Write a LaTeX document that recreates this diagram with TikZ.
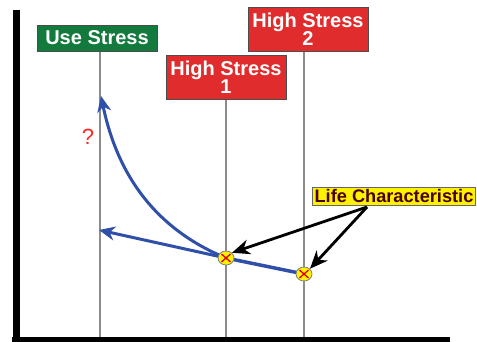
\documentclass[tikz,border=0pt]{standalone}
\usepackage{fontspec}
\setmainfont{Liberation Sans}
\usetikzlibrary{arrows.meta,shapes.geometric}
\definecolor{boxgreen}{HTML}{137A3D}
\definecolor{boxred}{HTML}{E02C2C}
\definecolor{curveblue}{HTML}{2F4FA8}
\definecolor{maroon}{HTML}{4A0000}
\definecolor{guidegray}{HTML}{8C8C8C}
\tikzset{
  label box/.style={draw=black!70, line width=1pt, text=white, inner sep=0pt,
    font=\bfseries\fontsize{20}{18.5}\selectfont, align=center},
  guide/.style={draw=guidegray, line width=1.4pt},
  curve/.style={draw=curveblue, line width=3pt, -{Stealth[length=16pt,width=14pt]}},
  pointer/.style={draw=black, line width=2.8pt, -{Stealth[length=18pt,width=15pt]}},
  lifepoint/.style={ellipse, draw=black!50, fill=yellow, minimum width=16pt, minimum height=14pt, inner sep=0pt, line width=0.8pt},
  axis/.style={draw=black, line width=7pt},
}
\begin{document}
\begin{tikzpicture}[x=1pt,y=-1pt]
\useasboundingbox (0,0) rectangle (477,341);
% axes
\coordinate (top) at (16,10);
\coordinate (orig) at (16,341);
\coordinate (xstart) at (12,339);
\coordinate (xend) at (450,339);
\draw[axis] (top) -- (orig);
\draw[draw=black, line width=5pt] (xstart) -- (xend);
% label boxes
\node[label box, fill=boxgreen, minimum width=120pt, minimum height=26pt] (use) at (97,38) {Use Stress};
\node[label box, fill=boxred, minimum width=120pt, minimum height=44pt] (hs1) at (226,77) {High Stress\\1};
\node[label box, fill=boxred, minimum width=120pt, minimum height=44pt] (hs2) at (308,29) {High Stress\\2};
% guide lines
\coordinate (b0) at (100,337);
\coordinate (b1) at (226,337);
\coordinate (b2) at (304,337);
\draw[guide] (use.south -| b0) -- (b0);
\draw[guide] (hs1.south -| b1) -- (b1);
\draw[guide] (hs2.south -| b2) -- (b2);
% points
\coordinate (c1) at (226,258);
\coordinate (c2) at (304,274);
\coordinate (tipA) at (101,96);
\coordinate (tipB) at (99,230);
\draw[draw=curveblue, line width=3.5pt] (c1) -- (c2);
\draw[curve] (c1) -- (tipB);
\draw[curve] (c1) .. controls (158,230) and (118,178) .. (tipA);
\node[lifepoint] (p1) at (c1) {};
\node[lifepoint] (p2) at (c2) {};
\foreach \p in {p1,p2}{
  \draw[red!85!black, line width=1.3pt] ([shift={(-4.5pt,-4pt)}]\p.center) -- ([shift={(4.5pt,4pt)}]\p.center);
  \draw[red!85!black, line width=1.3pt] ([shift={(-4.5pt,4pt)}]\p.center) -- ([shift={(4.5pt,-4pt)}]\p.center);
}
% question mark
\node[text=red!85!white, font=\fontsize{22}{22}\selectfont] (q) at (88,137) {?};
% life characteristic
\node[draw=black!60, fill=yellow, line width=1pt, text=maroon, anchor=west, inner sep=0pt,
  minimum height=18pt, minimum width=163pt, font=\bfseries\fontsize{18.2}{18}\selectfont] (life) at (312,196) {Life Characteristic};
\coordinate (src) at (367,207);
\draw[pointer] (src) -- (p1.north east);
\draw[pointer] (src) -- (p2.north east);
\end{tikzpicture}
\end{document}
